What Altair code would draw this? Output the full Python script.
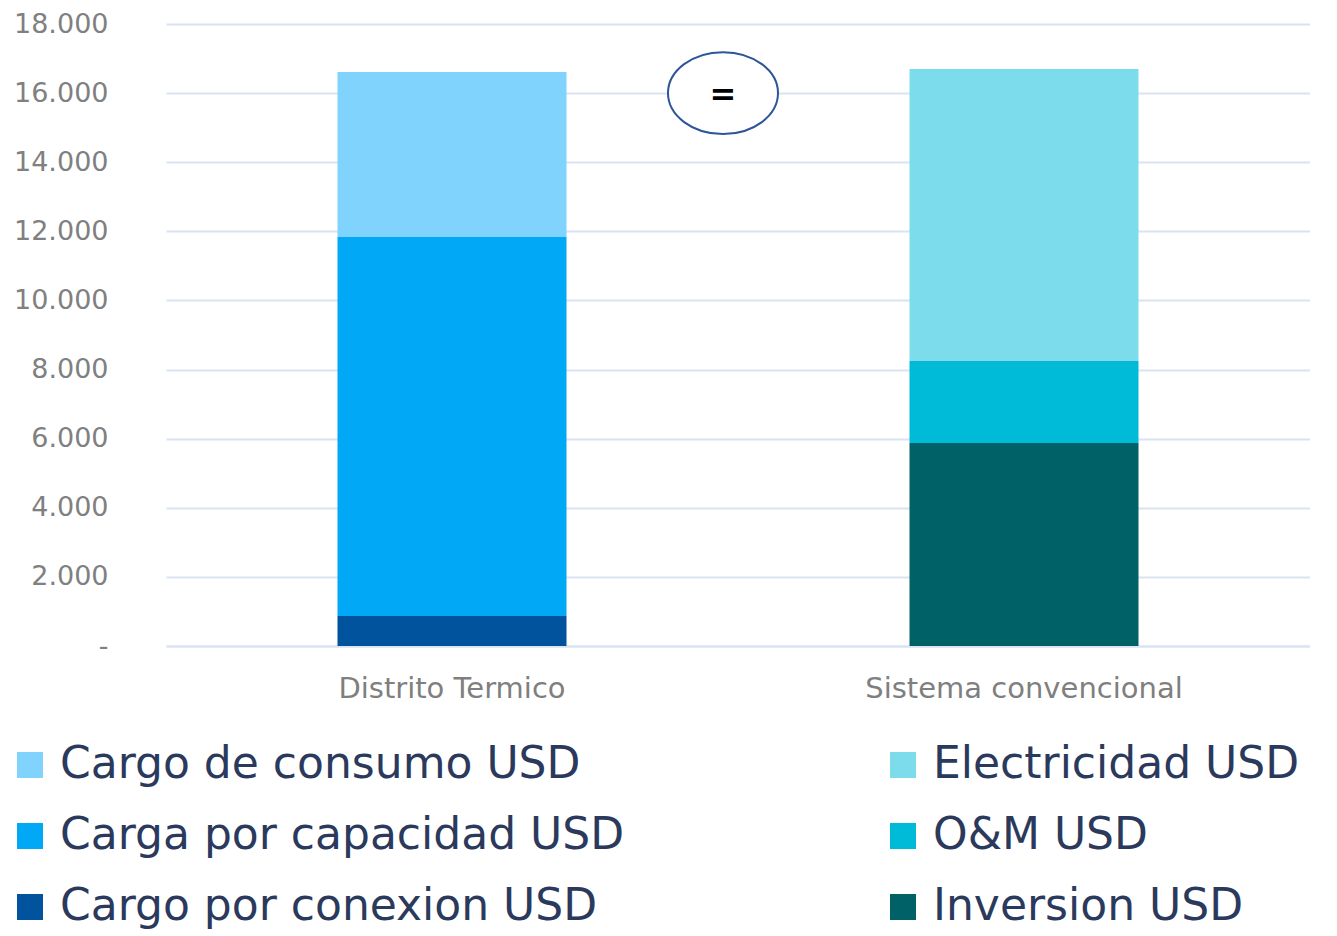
import altair as alt
import pandas as pd

categories = ["Distrito Termico", "Distrito Termico", "Distrito Termico",
              "Sistema convencional", "Sistema convencional", "Sistema convencional"]
series = ["Cargo por conexion USD", "Carga por capacidad USD", "Cargo de consumo USD",
          "Inversion USD", "O&M USD", "Electricidad USD"]
values = [870, 10965, 4775, 5875, 2375, 8450]
stack_order = [0, 1, 2, 0, 1, 2]

legend_order = ["Cargo de consumo USD", "Carga por capacidad USD", "Cargo por conexion USD",
                "Electricidad USD", "O&M USD", "Inversion USD"]
legend_colors = ["#7fd3fc", "#00a8f5", "#00539c", "#7cdcec", "#00bbd7", "#006166"]

y_ticks = [0, 2000, 4000, 6000, 8000, 10000, 12000, 14000, 16000, 18000]

df = pd.DataFrame({"cat": categories, "serie": series, "valor": values, "ord": stack_order})

x_enc = alt.X("cat:N", title=None, sort=["Distrito Termico", "Sistema convencional"],
              scale=alt.Scale(paddingInner=0.6, paddingOuter=0.3),
              axis=alt.Axis(labelAngle=0, labelFontSize=29, labelColor="#7f7f7f",
                            labelFont="DejaVu Sans", labelPadding=28, ticks=False,
                            labelLimit=0,
                            domainColor="#d9e3f2", domainWidth=2, grid=False))

bars = alt.Chart(df).mark_bar(size=229).encode(
    x=x_enc,
    y=alt.Y("valor:Q", title=None, stack="zero",
            scale=alt.Scale(domain=[0, 18000], nice=False),
            axis=alt.Axis(values=y_ticks, labelFontSize=27, labelColor="#808080",
                          labelFont="DejaVu Sans", labelPadding=58, ticks=False,
                          domain=False, gridColor="#d9e3f2", gridWidth=2,
                          minExtent=152, maxExtent=152,
                          labelExpr="datum.value == 0 ? '-\u00a0\u00a0\u00a0' : replace(format(datum.value, ',d'), ',', '.')")),
    color=alt.Color("serie:N", title=None,
                    scale=alt.Scale(domain=legend_order, range=legend_colors),
                    legend=alt.Legend(orient="none", legendX=-158, legendY=719,
                                      padding=0,
                                      columns=2, columnPadding=256, rowPadding=27,
                                      symbolType="square", symbolSize=676,
                                      symbolStrokeWidth=0, labelFontSize=44,
                                      labelFont="DejaVu Sans", labelColor="#2b3a5c",
                                      labelLimit=0, labelOffset=8)),
    order=alt.Order("ord:Q"),
)

note_df = pd.DataFrame({"cat": ["Distrito Termico"], "valor": [16000], "txt": ["="]})

ellipse = alt.Chart(note_df).mark_point(
    shape="M -1 0 A 1 0.745 0 1 1 1 0 A 1 0.745 0 1 1 -1 0 Z",
    size=12100, filled=False, fill="white", fillOpacity=1,
    stroke="#2e5597", strokeWidth=2, opacity=1, xOffset=271
).encode(x=alt.X("cat:N", sort=["Distrito Termico", "Sistema convencional"]),
         y="valor:Q")

eq_text = alt.Chart(note_df).mark_text(
    fontSize=32, font="DejaVu Sans", fontWeight="bold", color="#000000",
    xOffset=271, yOffset=2
).encode(x=alt.X("cat:N", sort=["Distrito Termico", "Sistema convencional"]),
         y="valor:Q", text="txt:N")

chart = alt.layer(bars, ellipse, eq_text).properties(
    width=1144, height=622,
    padding={"top": 2, "left": 0, "right": 0, "bottom": 0},
    background="white"
).configure_view(strokeWidth=0)

chart.save("out.html", embed_options={"renderer": "svg", "actions": False})
